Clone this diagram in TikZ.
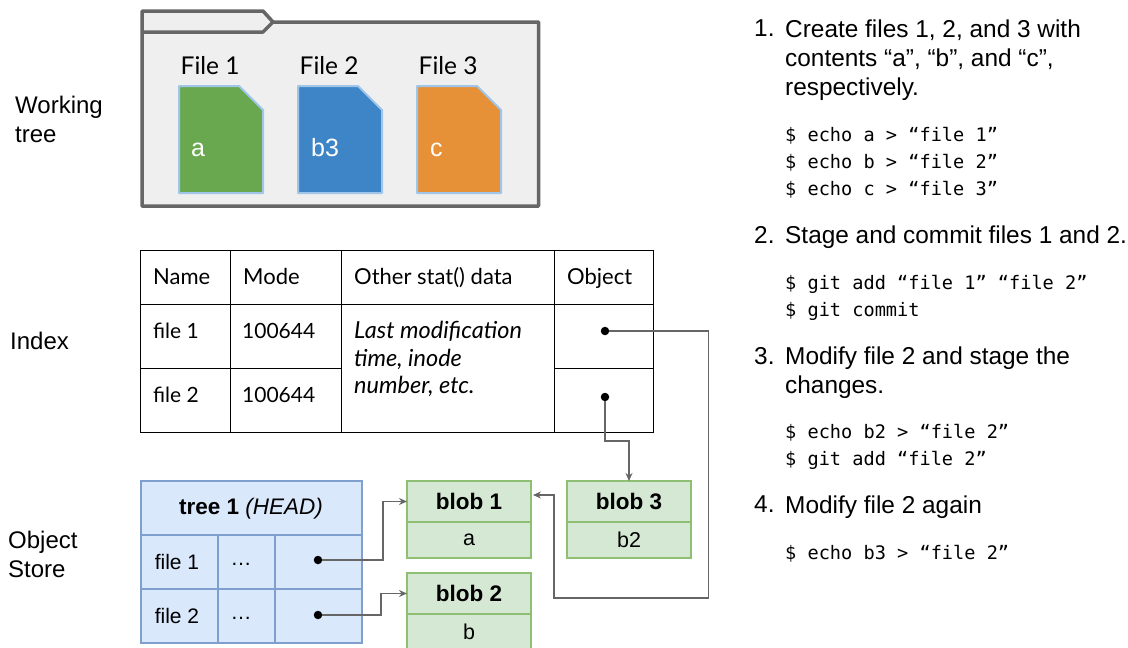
\documentclass[tikz,border=0pt]{standalone}
\usepackage{fontspec}
\setmainfont{Liberation Sans}
\setmonofont{DejaVu Sans Mono}
\newfontfamily\latofont{Lato}
\usepackage{xcolor}
\usetikzlibrary{arrows.meta,positioning}

\definecolor{foldergray}{HTML}{666666}
\definecolor{folderfill}{HTML}{EFEFEF}
\definecolor{fileedge}{HTML}{9FC5E8}
\definecolor{filegreen}{HTML}{6AA84F}
\definecolor{fileblue}{HTML}{3D85C6}
\definecolor{fileorange}{HTML}{E69138}
\definecolor{treefill}{HTML}{DAE8FC}
\definecolor{treeedge}{HTML}{7F9FCF}
\definecolor{blobfill}{HTML}{D5E8D4}
\definecolor{blobedge}{HTML}{8FBF73}

\tikzset{
  sidelabel/.style={anchor=west, align=left, inner sep=0pt, font=\fontsize{24}{29}\selectfont},
  filelabel/.style={anchor=west, inner sep=0pt, font=\latofont\fontsize{24.5}{29}\selectfont},
  filetext/.style={anchor=base west, inner sep=0pt, text=white, font=\fontsize{25}{29}\selectfont},
  tabletext/.style={anchor=base west, align=left, inner sep=0pt, font=\latofont\fontsize{21}{27.5}\selectfont},
  headtext/.style={tabletext, font=\latofont\fontsize{22}{27.5}\selectfont},
  notetext/.style={anchor=north west, align=left, inner sep=0pt, font=\latofont\itshape\fontsize{23.5}{27.5}\selectfont},
  treetext/.style={inner sep=0pt, font=\fontsize{21}{25}\selectfont},
  blobhead/.style={draw=blobedge, fill=blobfill, line width=1.2pt, minimum width=124pt, minimum height=41pt, inner sep=0pt, outer sep=0pt, font=\bfseries\fontsize{22.5}{25}\selectfont},
  blobbody/.style={draw=blobedge, fill=blobfill, line width=1.2pt, minimum width=124pt, minimum height=36pt, inner sep=0pt, outer sep=0pt, font=\fontsize{21.5}{25}\selectfont},
  dot/.style={circle, fill=black, inner sep=0pt, minimum size=8.5pt},
  conn/.style={draw=foldergray, line width=1.3pt, -{Stealth[length=8pt,width=7pt]}},
  steptext/.style={anchor=north west, align=left, inner sep=0pt, font=\fontsize{24.4}{29}\selectfont},
  shelltext/.style={anchor=north west, align=left, inner sep=0pt, font=\ttfamily\fontsize{18.6}{27}\selectfont}
}

\begin{document}
\begin{tikzpicture}[x=1pt,y=-1pt]
  \path[use as bounding box, clip] (0,0) rectangle (1128,648);

  % Left labels
  \node[sidelabel] (worklabel) at (15,119) {Working\\tree};
  \node[sidelabel] (indexlabel) at (10,341) {Index};
  \node[sidelabel] (storelabel) at (8,554) {Object\\Store};

  % Folder
  \draw[foldergray, fill=folderfill, line width=3.5pt, line join=round]
    (142,11) -- (263,11) -- (273,22) -- (538.5,22) -- (538.5,206) -- (142,206) -- cycle;
  \draw[foldergray, line width=3.5pt, line join=round] (142,32) -- (263,32) -- (273,22);

  % Files
  \foreach \x/\col/\num/\txt/\off in {179/filegreen/1/a/12,298/fileblue/2/b3/13,417/fileorange/3/c/13} {
    \draw[fileedge, fill=\col, line width=2pt, line join=round]
      (\x,86) -- (\x+60,86) -- (\x+84,110) -- (\x+84,193) -- (\x,193) -- cycle;
    \node[filelabel] (filelabel\num) at (\x+1.5,66) {File \num};
    \node[filetext] (filetext\num) at (\x+\off,156) {\txt};
  }

  % Index table
  \draw[line width=1pt] (140,250) rectangle (653,432);
  \draw[line width=1pt] (140,304) -- (653,304);
  \draw[line width=1pt] (140,368) -- (341,368);
  \draw[line width=1pt] (554,368) -- (653,368);
  \foreach \x in {230,341,554} {
    \draw[line width=1pt] (\x,250) -- (\x,432);
  }
  \node[headtext] (namehead) at (153,284) {Name};
  \node[headtext] (modehead) at (243,284) {Mode};
  \node[headtext] (stathead) at (354,284) {Other stat() data};
  \node[headtext] (objhead) at (567,284) {Object};
  \node[tabletext] (indexfilea) at (153,338) {file 1};
  \node[tabletext] (indexmodea) at (242,338) {100644};
  \node[tabletext] (indexfileb) at (153,402) {file 2};
  \node[tabletext] (indexmodeb) at (242,402) {100644};
  \node[notetext] (statnote) at (354,321) {Last modification\\time, inode\\number, etc.};
  \node[dot] (indexdota) at (605,331) {};
  \node[dot] (indexdotb) at (605,397) {};

  % Tree
  \draw[treeedge, fill=treefill, line width=1.2pt] (141,481) rectangle (362,643);
  \draw[treeedge, line width=1.2pt] (141,535) -- (362,535);
  \draw[treeedge, line width=1.2pt] (141,589) -- (362,589);
  \foreach \x in {218,275} {
    \draw[treeedge, line width=1.2pt] (\x,535) -- (\x,643);
  }
  \node[treetext, font=\fontsize{22.5}{25}\selectfont] (treehead) at (251,509) {\textbf{tree 1} \textit{(HEAD)}};
  \node[treetext] (treefilea) at (177,562) {file 1};
  \node[treetext] (treefileb) at (177,616) {file 2};
  \node[treetext] (treedotsa) at (241,564) {\dots};
  \node[treetext] (treedotsb) at (241,618) {\dots};
  \node[dot] (treedota) at (318,560) {};
  \node[dot] (treedotb) at (318,615) {};

  % Blobs
  \node[blobhead] (blobahead) at (469,501.5) {blob 1};
  \node[blobbody, below=0pt of blobahead] (blobabody) {a};
  \node[blobhead] (blobchead) at (629,501.5) {blob 3};
  \node[blobbody, below=0pt of blobchead] (blobcbody) {b2};
  \node[blobhead] (blobbhead) at (469,593.5) {blob 2};
  \node[blobbody, below=0pt of blobbhead] (blobbbody) {b};
  \coordinate (blobain) at (533,495);

  % Connectors
  \draw[conn] (treedota) -- ++(65,0) |- (blobahead.west);
  \draw[conn] (treedotb) -- ++(63,0) |- (blobbhead.west);
  \draw[conn] (indexdotb) -- ++(0,44) -| (blobchead.north);
  \draw[conn] (indexdota) -- ++(103.5,0) -- ++(0,267) -- ++(-154.5,0) |- (blobain);

  % Steps
  \node[steptext] (stepnuma) at (754,20) {1.};
  \node[steptext] (stepa) at (785,20) {Create files 1, 2, and 3 with\\contents “a”, “b”, and “c”,\\respectively.};
  \node[shelltext] (shella) at (785,127) {\$ echo a > “file 1”\\\$ echo b > “file 2”\\\$ echo c > “file 3”};
  \node[steptext] (stepnumb) at (754,226) {2.};
  \node[steptext] (stepb) at (785,226) {Stage and commit files 1 and 2.};
  \node[shelltext] (shellb) at (785,275) {\$ git add “file 1” “file 2”\\\$ git commit};
  \node[steptext] (stepnumc) at (754,347) {3.};
  \node[steptext] (stepc) at (785,347) {Modify file 2 and stage the\\changes.};
  \node[shelltext] (shellc) at (785,424) {\$ echo b2 > “file 2”\\\$ git add “file 2”};
  \node[steptext] (stepnumd) at (754,496) {4.};
  \node[steptext] (stepd) at (785,496) {Modify file 2 again};
  \node[shelltext] (shelld) at (785,545) {\$ echo b3 > “file 2”};
\end{tikzpicture}
\end{document}
